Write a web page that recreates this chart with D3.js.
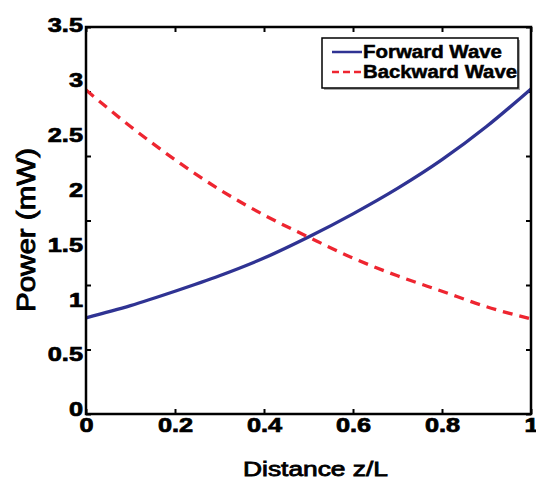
<!DOCTYPE html>
<html><head><meta charset="utf-8">
<script src="https://cdn.jsdelivr.net/npm/d3@7/dist/d3.min.js"></script>
<style>body{margin:0;background:#fff}svg{display:block}</style>
</head><body>
<svg id="chart" width="536" height="482"></svg>
<script>
// ---- data ----
const zValues      = [0, 0.1, 0.2, 0.3, 0.4, 0.5, 0.6, 0.7, 0.8, 0.9, 1.0];
const forwardWave  = [0.87, 0.98, 1.11, 1.25, 1.41, 1.60, 1.81, 2.04, 2.30, 2.60, 2.94];
const backwardWave = [2.93, 2.60, 2.30, 2.03, 1.80, 1.60, 1.41, 1.25, 1.11, 0.97, 0.86];
const seriesNames  = ["Forward Wave", "Backward Wave"];
const xTickValues  = [0, 0.2, 0.4, 0.6, 0.8, 1];
const xTickLabels  = ["0", "0.2", "0.4", "0.6", "0.8", "1"];
const yTickValues  = [0, 0.5, 1, 1.5, 2, 2.5, 3, 3.5];
const yTickLabels  = ["0", "0.5", "1", "1.5", "2", "2.5", "3", "3.5"];
const yTickMarkValues = [0, 0.5, 1, 1.5, 2, 2.5, 3];
const xLabel = "Distance z/L";
const yLabel = "Power (mW)";

// ---- layout ----
const L = 86, R = 531, T = 27, B = 414;
const svg = d3.select("#chart");
svg.append("rect").attr("width", 536).attr("height", 482).attr("fill", "#fff");

const x = d3.scaleLinear().domain([0, 1]).range([L, R]);
const y = d3.scaleLinear().domain([0, 3.5]).range([B, T]);
const yMarks = d3.scaleLinear().domain([0, 3]).range([B, T]);   // tick marks as drawn in picture
const yLabelsScale = d3.scaleLinear().domain([0, 3.5]).range([409, 25]);

const FONT = "'Liberation Sans', Arial, Helvetica, sans-serif";
const SX = 1.3;

// tick marks (inward) on all four sides
function noText(g){ g.selectAll("text").remove(); g.select(".domain").remove(); g.selectAll("line").attr("stroke","#000").attr("stroke-width",2); }
svg.append("g").attr("transform", `translate(0,${B})`)
  .call(d3.axisBottom(x).tickValues(xTickValues).tickSize(-5)).call(noText);
svg.append("g").attr("transform", `translate(0,${T})`)
  .call(d3.axisTop(x).tickValues(xTickValues).tickSize(-5)).call(noText);
svg.append("g").attr("transform", `translate(${L},0)`)
  .call(d3.axisLeft(yMarks).tickValues(yTickMarkValues).tickSize(-5)).call(noText);
svg.append("g").attr("transform", `translate(${R},0)`)
  .call(d3.axisRight(yMarks).tickValues(yTickMarkValues).tickSize(-5)).call(noText);

// tick labels
const xAx = svg.append("g").attr("transform", `translate(0,${B})`)
  .call(d3.axisBottom(x).tickValues(xTickValues).tickSize(0).tickPadding(0)
        .tickFormat((d, i) => xTickLabels[i]));
xAx.select(".domain").remove();
xAx.selectAll("text").attr("font-family", FONT).attr("font-weight", "bold")
  .attr("font-size", 19.5).attr("fill", "#000").attr("stroke", "#000").attr("stroke-width", 0.7)
  .attr("y", 4).attr("dy", "0.71em")
  .attr("transform", `scale(${SX},1)`);

const yAx = svg.append("g").attr("transform", `translate(${L},0)`)
  .call(d3.axisLeft(yLabelsScale).tickValues(yTickValues).tickSize(0)
        .tickFormat((d, i) => yTickLabels[i]));
yAx.select(".domain").remove();
yAx.selectAll("text").attr("font-family", FONT).attr("font-weight", "bold")
  .attr("font-size", 19.5).attr("fill", "#000").attr("stroke", "#000").attr("stroke-width", 0.7)
  .attr("x", -3 / SX).attr("dy", "0.35em")
  .attr("transform", `scale(${SX},1)`);

// axis titles
svg.append("text").attr("x", 315.5).attr("y", 476).attr("text-anchor", "middle")
  .attr("font-family", FONT).attr("font-size", 20).attr("fill", "#000")
  .attr("stroke", "#000").attr("stroke-width", 0.8)
  .attr("textLength", 145).attr("lengthAdjust", "spacingAndGlyphs").text(xLabel);
svg.append("text").attr("transform", "translate(35,230) rotate(-90)").attr("text-anchor", "middle")
  .attr("font-family", FONT).attr("font-size", 25).attr("fill", "#000")
  .attr("stroke", "#000").attr("stroke-width", 0.9)
  .attr("textLength", 164).attr("lengthAdjust", "spacingAndGlyphs").text(yLabel);

// lines
const pts = arr => arr.map((v, i) => [zValues[i], v]);
const line = d3.line().x(d => x(d[0])).y(d => y(d[1])).curve(d3.curveMonotoneX);
svg.append("path").attr("d", line(pts(forwardWave))).attr("fill", "none")
  .attr("stroke", "#2f3393").attr("stroke-width", 3.3);
svg.append("path").attr("d", line(pts(backwardWave))).attr("fill", "none")
  .attr("stroke", "#ee2530").attr("stroke-width", 3.3).attr("stroke-dasharray", "10,7");

// axes box
svg.append("rect").attr("x", L).attr("y", T).attr("width", R - L).attr("height", B - T)
  .attr("fill", "none").attr("stroke", "#000").attr("stroke-width", 2.5);

// legend
const lg = svg.append("g");
lg.append("rect").attr("x", 324).attr("y", 40).attr("width", 196).attr("height", 50)
  .attr("fill", "#aaa");
lg.append("rect").attr("x", 322).attr("y", 38).attr("width", 196).attr("height", 50)
  .attr("fill", "#fff").attr("stroke", "#000").attr("stroke-width", 1.5);
const legendStyles = [
  {color: "#2f3393", dash: null, len: 139},
  {color: "#ee2530", dash: "7,4", len: 154}
];
seriesNames.forEach((name, i) => {
  const cy = 52 + i * 20;
  lg.append("line").attr("x1", 332).attr("x2", 362).attr("y1", cy).attr("y2", cy)
    .attr("stroke", legendStyles[i].color).attr("stroke-width", 2.5)
    .attr("stroke-dasharray", legendStyles[i].dash);
  lg.append("text").attr("x", 363).attr("y", cy + 6).attr("font-family", FONT)
    .attr("font-weight", "bold").attr("font-size", 17.5).attr("fill", "#000")
    .attr("stroke", "#000").attr("stroke-width", 0.5)
    .attr("textLength", legendStyles[i].len).attr("lengthAdjust", "spacingAndGlyphs").text(name);
});
</script>
</body></html>
